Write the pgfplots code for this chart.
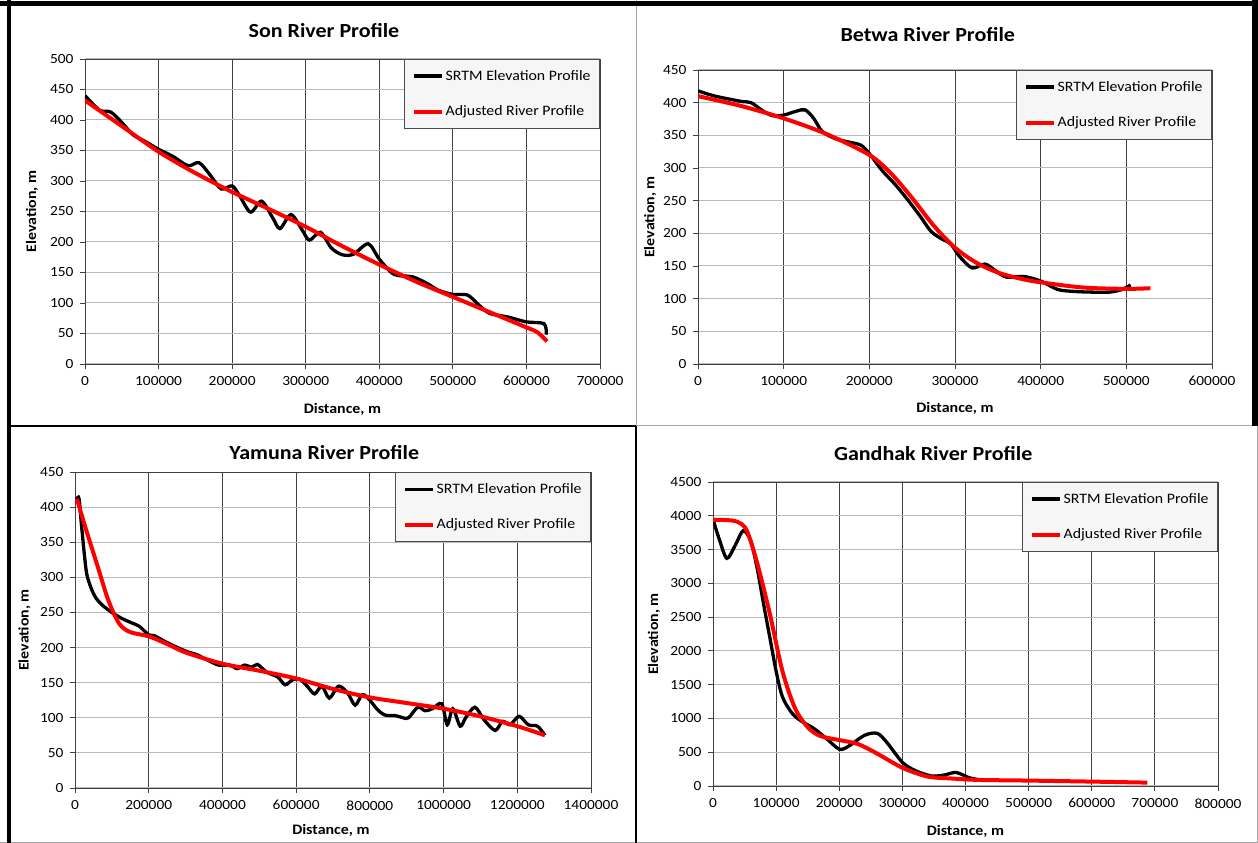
\documentclass[border=0pt]{standalone}
\usepackage{pgfplots}
\pgfplotsset{compat=1.18}
\usepackage{fontspec}
\setmainfont{Carlito}[FakeStretch=1.1]

\pgfplotsset{
  every axis title shift=0pt,
  river/.style={
    scale only axis, anchor=south west,
    xmin=0, ymin=0,
    grid=major,
    x grid style={black!75, line width=0.8pt},
    y grid style={gray!55, line width=1pt},
    axis line style={gray!50!black, line width=0.8pt},
    tick align=outside, major tick length=5pt,
    xtick pos=bottom, ytick pos=left,
    tick style={gray!50!black, line width=0.8pt},
    scaled ticks=false,
    /pgf/number format/fixed,
    /pgf/number format/1000 sep={},
    /pgf/number format/assume math mode=true,
    tick label style={font=\fontsize{14}{15}\selectfont},
    xticklabel style={yshift=-4pt},
    yticklabel style={xshift=-3pt},
    label style={font=\bfseries\fontsize{14.5}{16}\selectfont},
    ylabel style={anchor=center},
    xlabel style={anchor=center},
    title style={font=\bfseries\fontsize{20}{22}\selectfont, anchor=center},
    legend style={at={(1,1)}, anchor=north east, fill=gray!7,
      draw=gray!60!black, line width=0.8pt,
      font=\fontsize{14.4}{16}\selectfont, row sep=20pt,
      inner xsep=7pt, inner ysep=9pt, cells={anchor=west}},
    legend image code/.code={\draw[#1] (0pt,0pt) -- (28pt,0pt);},
  },
  srtm/.style={black, line width=3.3pt, smooth},
  adj/.style={red, line width=4pt, smooth},
}

\begin{document}
\begin{tikzpicture}
\useasboundingbox (0,0) rectangle (1258pt,843pt);
\fill[white] (0,0) rectangle (1258pt,843pt);

% Son
\begin{axis}[river, at={(85pt,479pt)}, width=515pt, height=305pt,
  xmax=700000, ymax=500, xtick distance=100000, ytick distance=50,
  title={Son River Profile}, title style={at={(axis description cs:0.464,1.092)}},
  xlabel={Distance, m}, xlabel style={at={(axis description cs:0.5,-0.148)}},
  ylabel={Elevation, m}, ylabel style={at={(axis description cs:-0.103,0.5)}}]
\addplot[srtm] coordinates {(0,440)(20000,416)(35000,413)(50000,396)(65000,376)(80000,366)(100000,352)(120000,340)(140000,325)(155000,330)(170000,310)(185000,287)(200000,292)(210000,276)(225000,249)(240000,267)(255000,240)(265000,222)(280000,245)(295000,220)(305000,203)(320000,216)(335000,190)(350000,179)(365000,180)(385000,197)(400000,172)(420000,147)(445000,143)(465000,132)(480000,121)(500000,114)(520000,113)(535000,97)(550000,83)(575000,77)(600000,69)(624000,66)(627000,48)};
\addlegendentry{SRTM Elevation Profile}
\addplot[adj] coordinates {(0,432)(50000,390)(100000,348)(150000,313)(200000,282)(250000,254)(300000,225)(350000,193)(400000,163)(450000,135)(500000,110)(550000,85)(600000,60)(615000,52)(628000,37)};
\addlegendentry{Adjusted River Profile}
\end{axis}

% Betwa
\begin{axis}[river, at={(698pt,479pt)}, width=514pt, height=294pt,
  xmax=600000, ymax=450, xtick distance=100000, ytick distance=50,
  title={Betwa River Profile}, title style={at={(axis description cs:0.447,1.119)}},
  xlabel={Distance, m}, xlabel style={at={(axis description cs:0.5,-0.15)}},
  ylabel={Elevation, m}, ylabel style={at={(axis description cs:-0.093,0.5)}}]
\addplot[srtm] coordinates {(0,418)(20000,410)(50000,402)(62000,400)(75000,388)(87000,380)(100000,381)(115000,387)(125000,389)(135000,376)(145000,356)(160000,345)(175000,340)(190000,335)(200000,322)(215000,296)(230000,275)(245000,251)(260000,225)(272000,203)(285000,191)(295000,184)(305000,165)(320000,147)(335000,153)(347000,143)(360000,133)(380000,134)(400000,127)(420000,114)(440000,111)(460000,110)(480000,110)(495000,114)(505000,121)};
\addlegendentry{SRTM Elevation Profile}
\addplot[adj] coordinates {(0,410)(50000,395)(100000,376)(150000,352)(200000,320)(225000,292)(250000,254)(275000,212)(300000,178)(325000,155)(350000,140)(375000,131)(400000,125)(450000,117)(500000,115)(528000,116)};
\addlegendentry{Adjusted River Profile}
\end{axis}

% Yamuna
\begin{axis}[river, at={(75pt,55pt)}, width=516pt, height=316pt,
  xmax=1400000, ymax=450, xtick distance=200000, ytick distance=50,
  title={Yamuna River Profile}, title style={at={(axis description cs:0.483,1.063)}},
  xlabel={Distance, m}, xlabel style={at={(axis description cs:0.496,-0.133)}},
  ylabel={Elevation, m}, ylabel style={at={(axis description cs:-0.098,0.5)}}]
\addplot[srtm] coordinates {(5000,411)(11000,412)(18000,372)(30000,311)(40000,290)(55000,272)(75000,260)(100000,250)(125000,242)(150000,236)(175000,230)(200000,218)(215000,217)(250000,207)(300000,195)(330000,190)(360000,182)(390000,175)(420000,175)(440000,170)(460000,175)(480000,172)(495000,176)(520000,165)(550000,158)(570000,147)(590000,154)(610000,155)(630000,145)(650000,134)(670000,145)(690000,128)(715000,145)(740000,135)(760000,118)(780000,133)(800000,125)(820000,112)(840000,104)(870000,103)(890000,100)(905000,100)(930000,115)(950000,110)(970000,113)(995000,120)(1010000,90)(1025000,113)(1045000,88)(1060000,100)(1085000,115)(1110000,97)(1140000,82)(1160000,95)(1180000,90)(1205000,102)(1230000,90)(1255000,88)(1275000,75)};
\addlegendentry{SRTM Elevation Profile}
\addplot[adj] coordinates {(5000,412)(30000,368)(60000,318)(90000,268)(120000,234)(150000,222)(200000,216)(250000,205)(300000,193)(400000,177)(500000,167)(600000,156)(700000,141)(800000,129)(900000,121)(1000000,113)(1100000,102)(1200000,88)(1275000,75)};
\addlegendentry{Adjusted River Profile}
\end{axis}

% Gandhak
\begin{axis}[river, at={(713pt,57pt)}, width=505pt, height=304pt,
  xmax=800000, ymax=4500, xtick distance=100000, ytick distance=500,
  title={Gandhak River Profile}, title style={at={(axis description cs:0.436,1.092)}},
  xlabel={Distance, m}, xlabel style={at={(axis description cs:0.5,-0.148)}},
  ylabel={Elevation, m}, ylabel style={at={(axis description cs:-0.117,0.5)}}]
\addplot[srtm] coordinates {(0,3950)(10000,3650)(22000,3370)(35000,3560)(48000,3780)(60000,3620)(70000,3220)(80000,2700)(90000,2200)(100000,1700)(110000,1320)(125000,1080)(140000,960)(160000,850)(180000,700)(200000,545)(215000,590)(240000,750)(260000,780)(275000,650)(300000,350)(320000,230)(345000,150)(365000,160)(385000,200)(405000,125)(420000,95)};
\addlegendentry{SRTM Elevation Profile}
\addplot[adj] coordinates {(0,3940)(30000,3930)(45000,3880)(55000,3750)(70000,3300)(90000,2550)(110000,1700)(130000,1150)(150000,870)(170000,740)(200000,680)(230000,620)(260000,480)(300000,270)(340000,140)(380000,110)(420000,90)(500000,80)(600000,65)(688000,50)};
\addlegendentry{Adjusted River Profile}
\end{axis}

% panel frames
\draw[gray!70, line width=1pt] (636pt,843pt) -- (636pt,417pt);
\draw[gray!70, line width=1pt] (636pt,417pt) -- (1258pt,417pt);
\draw[gray!70, line width=1pt] (0,0.5pt) -- (1258pt,0.5pt);
\draw[gray!70, line width=1pt] (1257pt,0) -- (1257pt,417pt);
\draw[black, line width=2.5pt] (9pt,417pt) -- (636pt,417pt);
\draw[black, line width=2.5pt] (636pt,417pt) -- (636pt,0);
\draw[black, line width=4.5pt] (9pt,0) -- (9pt,843pt);
\draw[black, line width=5pt] (0,839pt) -- (1258pt,839pt);
\draw[black, line width=5.5pt] (1255pt,843pt) -- (1255pt,417pt);
\end{tikzpicture}
\end{document}
